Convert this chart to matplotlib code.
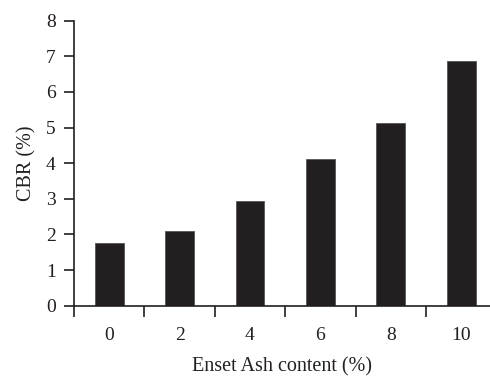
import matplotlib
matplotlib.use("Agg")
import matplotlib.pyplot as plt
import numpy as np

# CBR results for different Enset ash contents
ash_content = ["0", "2", "4", "6", "8", "10"]
cbr_values = [1.75, 2.09, 2.95, 4.11, 5.12, 6.86]
y_ticks = [0, 1, 2, 3, 4, 5, 6, 7, 8]

ink = "#231f20"
plt.rcParams["font.family"] = ["Liberation Serif", "DejaVu Serif"]
fs = 14

fig = plt.figure(figsize=(4.9, 3.76), dpi=100)
ax = fig.add_axes([0.151, 0.187, 0.849, 0.758])

pos = np.arange(len(ash_content))
ax.bar(pos, cbr_values, width=0.41, color=ink, edgecolor="#555555", linewidth=0.6)

ax.set_xlim(-0.5, 5.41)
ax.set_ylim(0, 8)
ax.set_yticks(y_ticks)
ax.set_yticklabels([str(t) for t in y_ticks])

# category labels centred under bars, ticks on category boundaries
ax.set_xticks(pos)
ax.set_xticklabels(ash_content)
ax.set_xticks(np.arange(-0.5, 5.5, 1.0), minor=True)
ax.tick_params(axis="x", which="major", length=0, pad=15, labelsize=fs, colors=ink)
ax.tick_params(axis="x", which="minor", length=8, width=1.2, direction="out", color=ink)
ax.tick_params(axis="y", length=7.2, width=1.2, direction="out", pad=6, labelsize=fs, colors=ink)

for side in ("top", "right"):
    ax.spines[side].set_visible(False)
for side in ("left", "bottom"):
    ax.spines[side].set_color(ink)
    ax.spines[side].set_linewidth(1.2)

ax.set_xlabel("Enset Ash content (%)", fontsize=14.5, color=ink, labelpad=10)
ax.set_ylabel("CBR (%)", fontsize=14.5, color=ink, labelpad=7)

fig.savefig("out.png", dpi=100)
